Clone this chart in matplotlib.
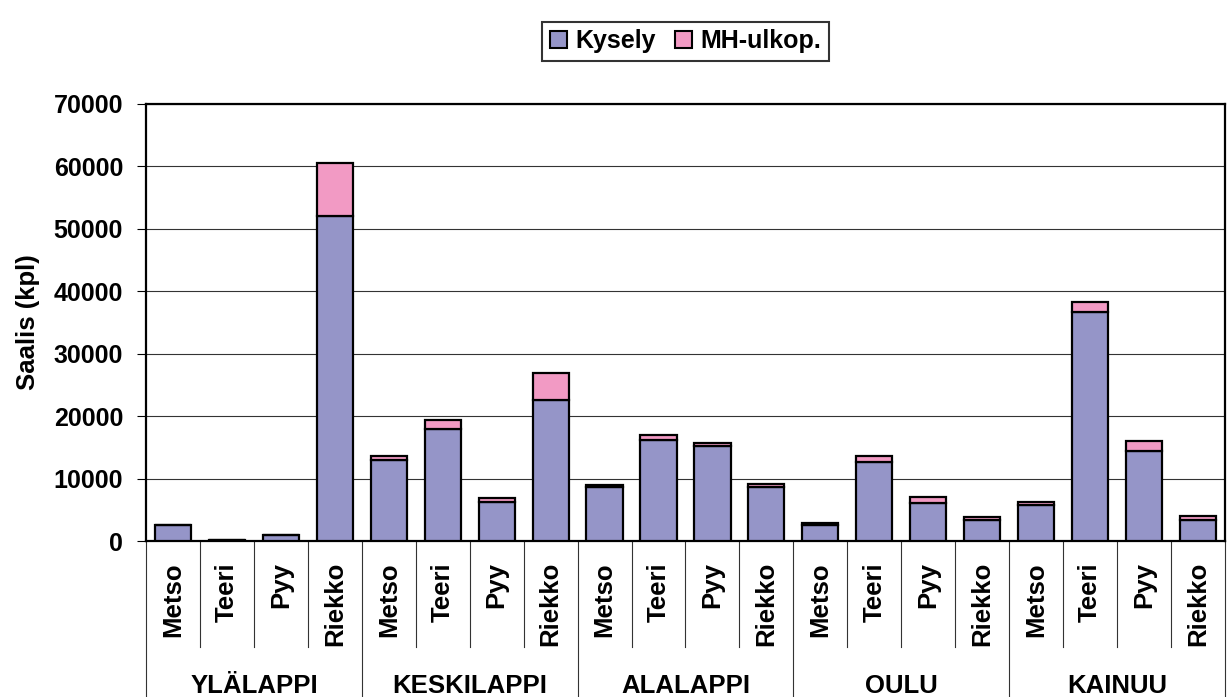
import matplotlib.pyplot as plt
import numpy as np
from matplotlib.patches import Patch

# saalis per alue ja laji
regions = ["YLÄLAPPI", "KESKILAPPI", "ALALAPPI", "OULU", "KAINUU"]
species = ["Metso", "Teeri", "Pyy", "Riekko"]
kysely = [2550, 150, 900, 52100,
          12900, 17900, 6250, 22650,
          8600, 16100, 15200, 8600,
          2600, 12700, 6150, 3300,
          5750, 36750, 14400, 3350]
mh_ulkop = [0, 0, 50, 8500,
            700, 1500, 600, 4300,
            400, 900, 500, 600,
            350, 950, 850, 500,
            500, 1600, 1600, 600]

col_kysely = "#9595C8"
col_mh = "#F29AC4"

plt.rcParams["font.family"] = ["Liberation Sans", "DejaVu Sans"]
plt.rcParams["font.weight"] = "bold"

fig = plt.figure(figsize=(12.29, 6.97), dpi=100)
ax = fig.add_axes([0.1188, 0.2238, 0.8779, 0.627])

n = len(species) * len(regions)
x = np.arange(n)
ax.bar(x, kysely, 0.67, color=col_kysely, edgecolor="black", linewidth=1.6, zorder=3)
ax.bar(x, mh_ulkop, 0.67, bottom=kysely, color=col_mh, edgecolor="black",
       linewidth=1.6, zorder=3)

ax.set_xlim(-0.5, n - 0.5)
ax.set_ylim(0, 70000)
ax.set_yticks(np.arange(0, 70001, 10000))
ax.yaxis.grid(True, color="#333333", linewidth=0.8, zorder=0)
ax.tick_params(axis="y", direction="out", length=6.5, width=0.8, pad=10, labelsize=18)
ax.set_xticks([])
for s in ax.spines.values():
    s.set_linewidth(1.6)
    s.set_color("black")
ax.set_ylabel("Saalis (kpl)", fontsize=18.5, fontweight="bold", labelpad=10)

# kaksitasoiset luokkaotsikot x-akselin alla
trans = ax.get_xaxis_transform()
for i in range(n):
    ax.text(x[i], -0.048, species[i % len(species)], rotation=90, ha="center",
            va="top", fontsize=18.5, fontweight="bold", transform=trans)
for b in range(n + 1):
    edge = b - 0.5
    low = -0.357 if b % len(species) == 0 else -0.2426
    ax.plot([edge, edge], [0, low], color="#333333", linewidth=0.8,
            transform=trans, clip_on=False)
for g, name in enumerate(regions):
    mid = g * len(species) + (len(species) - 1) / 2
    ax.text(mid, -0.348, name, ha="center", va="baseline", fontsize=18.5,
            fontweight="bold", transform=trans)

handles = [Patch(facecolor=col_kysely, edgecolor="black", linewidth=1.5),
           Patch(facecolor=col_mh, edgecolor="black", linewidth=1.5)]
leg = fig.legend(handles, ["Kysely", "MH-ulkop."], loc="center",
                 bbox_to_anchor=(0.5578, 1 - 41 / 697), ncol=2, fontsize=18,
                 frameon=True, fancybox=False, handlelength=0.68, handleheight=0.7,
                 handletextpad=0.32, columnspacing=0.8, borderpad=0.3,
                 borderaxespad=0)
leg.get_frame().set_edgecolor("black")
leg.get_frame().set_linewidth(1.5)

fig.savefig("out.png", dpi=100)
